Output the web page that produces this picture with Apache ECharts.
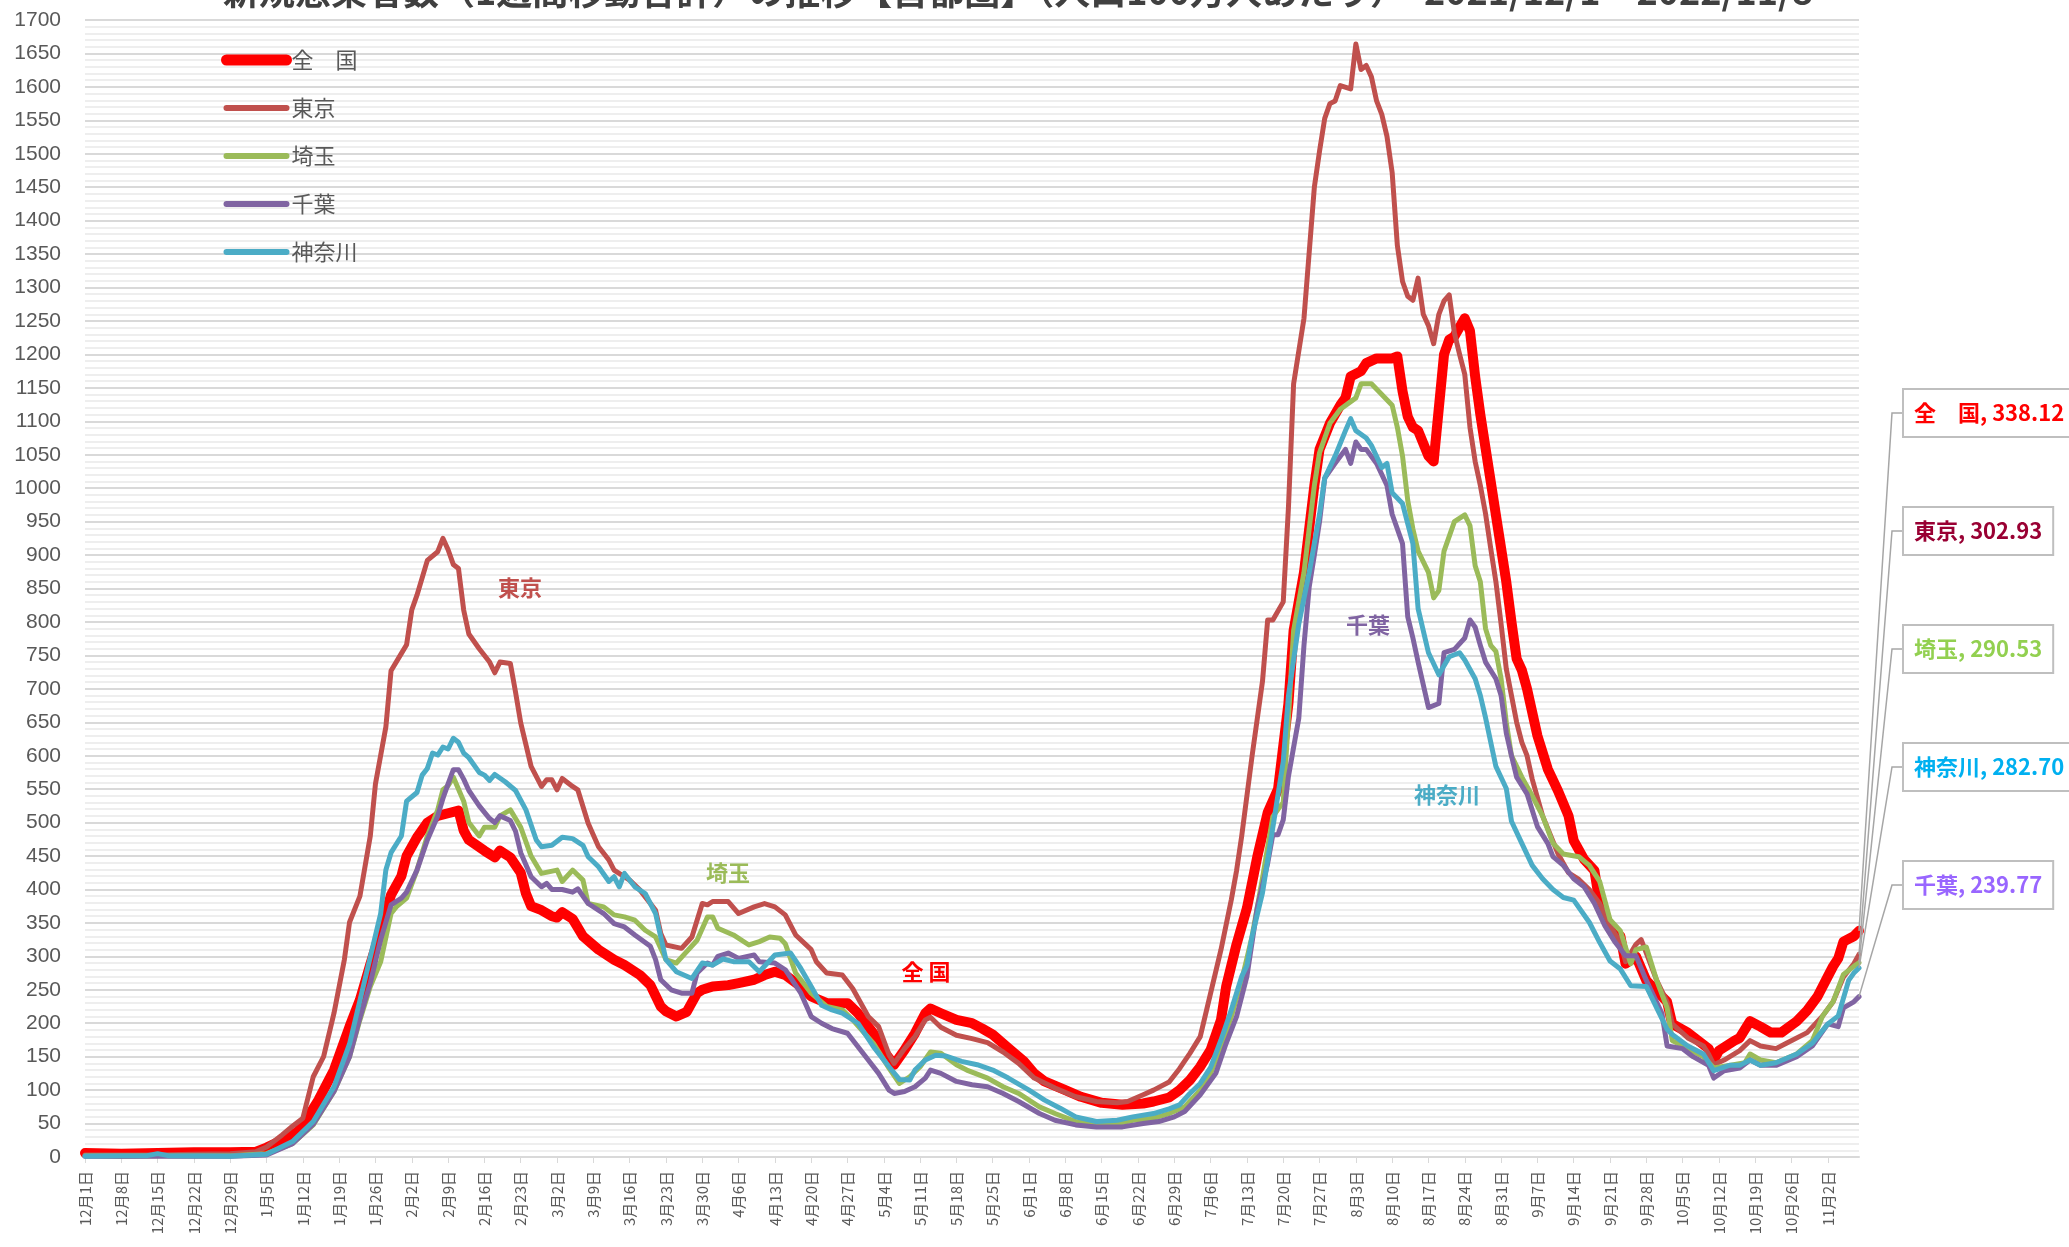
<!DOCTYPE html>
<html>
<head>
<meta charset="utf-8">
<title>新規感染者数の推移</title>
<script src="https://cdn.jsdelivr.net/npm/echarts@6/dist/echarts.min.js"></script>
<style>
html, body { margin: 0; padding: 0; background: #fff; }
#chart { width: 2069px; height: 1247px; }
</style>
</head>
<body>
<div id="chart"></div>
<script>
//------------------- データ --------------
// 2021/12/1 から 2022/11/8 までの日付（x軸カテゴリ）
var categories = [];
for (var i = 0; i < 343; i++) {
  var dt = new Date(2021, 11, 1 + i);
  categories.push((dt.getMonth() + 1) + '月' + dt.getDate() + '日');
}

var seriesNames = ['全　国', '東京', '埼玉', '千葉', '神奈川'];

// [日のインデックス, 人口100万人あたり1週間合計]
var zenkoku = [[0,6],[7,5],[14,6],[21,7],[28,7],[33,8],[35,14],[38,25],[41,38],[43,60],[45,85],[48,130],[51,195],[53,235],[55,288],[57,338],[59,392],[61,420],[62,450],[64,478],[66,500],[68,510],[70,514],[72,518],[73,488],[74,474],[77,458],[79,448],[80,458],[82,448],[84,425],[85,394],[86,375],[88,369],[90,360],[91,358],[92,366],[94,356],[96,330],[99,310],[102,295],[104,287],[107,272],[109,257],[111,225],[112,218],[114,210],[116,217],[118,245],[119,250],[121,255],[124,257],[126,260],[129,265],[131,272],[133,277],[135,272],[138,255],[140,240],[143,230],[147,230],[149,215],[152,185],[154,158],[156,138],[158,160],[160,185],[162,215],[163,222],[165,215],[168,205],[171,200],[173,192],[175,183],[178,163],[181,143],[183,125],[185,113],[189,100],[192,90],[196,81],[200,78],[204,80],[206,83],[209,89],[211,100],[213,115],[215,135],[217,160],[219,205],[220,255],[222,318],[224,372],[226,449],[228,515],[230,550],[232,678],[233,787],[235,874],[237,1004],[238,1058],[240,1097],[242,1124],[243,1135],[244,1167],[246,1175],[247,1187],[249,1194],[252,1194],[253,1197],[254,1145],[255,1107],[256,1091],[257,1086],[259,1048],[260,1040],[261,1120],[262,1200],[263,1222],[264,1227],[266,1254],[267,1235],[268,1167],[269,1110],[270,1060],[271,1010],[272,960],[273,910],[274,860],[275,800],[276,745],[277,728],[278,700],[280,630],[282,580],[284,547],[286,510],[287,473],[289,445],[291,428],[292,379],[294,342],[296,330],[297,289],[299,300],[301,264],[303,248],[305,232],[306,199],[309,186],[311,174],[313,162],[314,145],[315,159],[318,174],[319,178],[321,203],[323,195],[325,186],[327,186],[330,203],[332,219],[334,240],[336,270],[337,285],[338,297],[339,322],[341,330],[342,338.12]];

var tokyo = [[0,3],[14,3],[21,4],[28,5],[33,8],[35,15],[38,33],[40,46],[42,58],[44,120],[46,150],[48,215],[50,295],[51,351],[53,390],[55,480],[56,558],[58,643],[59,727],[61,753],[62,766],[63,818],[64,840],[66,892],[68,905],[69,925],[70,908],[71,886],[72,880],[73,818],[74,782],[76,760],[78,740],[79,724],[80,740],[82,738],[83,695],[84,649],[86,584],[88,554],[89,564],[90,564],[91,549],[92,566],[94,554],[95,549],[97,499],[99,464],[101,444],[102,429],[105,414],[107,399],[110,369],[111,334],[112,317],[115,312],[117,329],[119,379],[120,377],[121,382],[124,382],[126,364],[129,374],[131,379],[133,374],[135,362],[137,332],[140,310],[141,292],[143,275],[146,272],[148,252],[151,210],[153,195],[155,153],[156,140],[158,162],[160,180],[162,205],[163,209],[165,194],[168,182],[171,177],[174,171],[177,157],[180,140],[183,118],[187,103],[191,90],[195,83],[199,81],[201,83],[204,93],[206,100],[209,112],[211,132],[213,155],[215,180],[217,245],[219,310],[221,385],[222,428],[223,480],[225,600],[227,711],[228,803],[229,803],[231,830],[232,970],[233,1156],[235,1254],[236,1352],[237,1450],[238,1504],[239,1553],[240,1575],[241,1579],[242,1602],[244,1597],[245,1664],[246,1626],[247,1632],[248,1615],[249,1579],[250,1559],[251,1526],[252,1472],[253,1363],[254,1309],[255,1287],[256,1281],[257,1314],[258,1260],[259,1243],[260,1216],[261,1260],[262,1280],[263,1289],[264,1232],[265,1200],[266,1170],[267,1091],[268,1040],[269,1004],[270,962],[271,910],[272,860],[273,797],[274,730],[275,690],[276,650],[277,620],[278,600],[279,565],[281,510],[284,453],[286,425],[288,415],[290,400],[292,379],[294,346],[296,321],[297,292],[299,318],[300,325],[301,305],[303,264],[305,232],[306,199],[309,178],[312,166],[313,154],[314,138],[316,145],[319,159],[321,174],[323,166],[326,162],[328,170],[332,186],[335,211],[337,232],[339,269],[341,289],[342,302.93]];

var saitama = [[0,2],[14,2],[28,2],[35,5],[40,20],[44,48],[48,98],[51,150],[53,205],[55,255],[57,292],[59,364],[60,374],[62,387],[64,429],[66,480],[68,519],[69,549],[70,555],[71,568],[73,532],[74,500],[76,480],[77,493],[79,493],[80,510],[82,519],[83,506],[84,493],[86,450],[88,424],[91,429],[92,412],[94,429],[96,414],[97,379],[100,374],[102,362],[104,359],[106,354],[108,339],[110,329],[112,295],[114,290],[116,307],[118,324],[120,359],[121,359],[122,342],[125,332],[128,317],[130,322],[132,329],[134,327],[135,319],[137,275],[140,245],[143,225],[146,220],[148,205],[152,170],[155,133],[157,110],[159,120],[161,135],[163,157],[165,155],[168,138],[170,130],[174,118],[177,105],[180,95],[184,75],[187,65],[191,53],[195,50],[199,50],[202,55],[206,58],[209,65],[212,75],[215,100],[217,125],[219,165],[221,210],[223,265],[224,297],[225,330],[227,417],[229,509],[230,520],[231,530],[232,656],[233,787],[235,874],[237,1004],[238,1053],[240,1097],[242,1118],[245,1135],[246,1156],[248,1156],[250,1140],[252,1124],[253,1091],[254,1048],[255,982],[256,939],[257,906],[259,874],[260,836],[261,847],[262,906],[263,928],[264,950],[266,960],[267,944],[268,884],[269,860],[270,790],[271,765],[272,756],[273,715],[274,650],[275,600],[277,568],[279,540],[281,510],[283,469],[285,453],[288,449],[290,436],[292,412],[294,355],[296,338],[298,289],[299,310],[301,314],[303,264],[305,223],[306,174],[309,162],[312,150],[314,133],[317,137],[320,141],[321,154],[323,145],[326,141],[330,154],[333,174],[335,211],[337,232],[339,273],[341,285],[342,290.53]];

var chiba = [[0,1],[14,1],[28,1],[35,3],[40,20],[44,49],[48,98],[51,150],[53,208],[55,260],[57,325],[59,377],[61,387],[62,396],[64,429],[66,474],[68,510],[69,536],[70,558],[71,579],[72,579],[73,565],[74,548],[76,525],[78,506],[79,500],[80,510],[82,503],[83,487],[84,455],[86,419],[88,404],[89,409],[90,400],[92,400],[94,396],[95,401],[97,379],[100,364],[102,349],[104,344],[106,332],[109,315],[110,295],[111,265],[113,250],[115,245],[117,245],[118,275],[120,290],[121,287],[122,300],[124,305],[126,297],[129,302],[130,292],[133,290],[135,280],[138,245],[140,210],[142,200],[144,192],[147,185],[151,145],[153,125],[155,100],[156,95],[158,98],[160,105],[162,118],[163,130],[165,125],[168,113],[171,108],[174,105],[177,95],[180,83],[184,65],[187,55],[191,48],[195,45],[200,45],[204,50],[207,53],[210,60],[212,68],[215,93],[218,125],[220,170],[222,210],[224,270],[226,373],[228,439],[229,482],[230,482],[231,504],[232,569],[234,656],[235,765],[236,852],[237,900],[238,950],[239,1015],[241,1037],[243,1058],[244,1037],[245,1069],[246,1058],[247,1058],[249,1037],[251,1004],[252,961],[254,917],[255,808],[256,776],[257,740],[259,672],[261,678],[262,754],[264,759],[266,776],[267,803],[268,792],[269,765],[270,740],[272,715],[273,690],[274,634],[275,600],[276,568],[278,543],[280,494],[282,469],[283,449],[285,436],[287,416],[289,404],[291,379],[293,346],[295,321],[297,301],[299,301],[301,264],[304,215],[305,166],[308,162],[310,150],[313,137],[314,118],[316,129],[319,133],[321,145],[323,137],[326,137],[330,150],[333,166],[336,199],[338,195],[339,223],[341,232],[342,239.77]];

var kanagawa = [[0,1],[12,2],[14,5],[16,2],[28,1],[35,4],[40,23],[44,53],[48,105],[51,169],[53,234],[55,299],[57,364],[58,429],[59,455],[61,480],[62,532],[64,545],[65,571],[66,581],[67,604],[68,601],[69,613],[70,610],[71,626],[72,620],[73,604],[74,597],[76,575],[77,571],[78,563],[79,572],[81,561],[83,548],[85,519],[87,474],[88,464],[90,466],[92,478],[94,476],[96,466],[97,449],[99,434],[101,412],[102,419],[103,404],[104,424],[106,404],[108,394],[110,364],[111,329],[112,295],[114,277],[117,267],[119,290],[121,287],[123,296],[125,292],[128,292],[130,277],[133,302],[136,305],[138,282],[140,255],[142,227],[144,220],[146,215],[149,200],[152,165],[155,135],[157,116],[159,115],[160,130],[162,145],[164,152],[166,151],[169,143],[172,138],[175,130],[178,118],[182,100],[185,85],[188,73],[191,60],[195,53],[199,55],[202,60],[206,65],[209,72],[211,78],[213,95],[215,110],[217,134],[219,175],[221,220],[223,270],[224,286],[225,330],[227,395],[229,493],[231,591],[232,689],[234,797],[236,874],[238,961],[239,1015],[241,1048],[243,1086],[244,1104],[245,1086],[247,1075],[248,1064],[250,1031],[251,1037],[252,993],[254,977],[256,917],[257,820],[259,754],[261,721],[263,748],[265,754],[266,743],[268,715],[269,690],[270,657],[272,584],[274,551],[275,502],[277,469],[279,436],[281,416],[283,400],[285,388],[287,384],[290,351],[292,321],[294,293],[296,281],[298,256],[301,255],[303,223],[305,191],[306,183],[309,166],[312,154],[314,129],[317,137],[319,137],[321,145],[323,137],[326,141],[330,154],[333,170],[336,199],[338,211],[340,264],[341,275],[342,282.70]];

var seriesData = [zenkoku, tokyo, saitama, chiba, kanagawa];
var lineColors = ['#ff0000', '#c0504d', '#9bbb59', '#8064a2', '#4bacc6'];
var lineWidths = [10, 5, 5, 5, 5];
var legendWidths = [11, 6, 6, 6, 6];

// 右側の吹き出しラベル（上から順）
var calloutOrder = [0, 1, 2, 4, 3];
var calloutColors = ['#ff0000', '#990033', '#92d050', '#00b0f0', '#9966ff'];
var calloutY = [413, 531, 649, 767, 885];

// グラフ内の地域名
var areaLabels = [
  { text: '東京', x: 520, y: 588, color: '#c0504d' },
  { text: '埼玉', x: 728, y: 873, color: '#9bbb59' },
  { text: '全 国', x: 926, y: 972, color: '#ff0000' },
  { text: '千葉', x: 1368, y: 625, color: '#8064a2' },
  { text: '神奈川', x: 1447, y: 795, color: '#4bacc6' }
];

//------------------- 設定 --------------
var cjk = '"Noto Sans CJK JP", "Noto Sans", sans-serif';
var series = [];
var legendData = [];
for (var s = 0; s < seriesNames.length; s++) {
  series.push({
    name: seriesNames[s],
    type: 'line',
    data: seriesData[s],
    symbol: 'none',
    smooth: false,
    animation: false,
    lineStyle: { color: lineColors[s], width: lineWidths[s], cap: 'round', join: 'round' },
    itemStyle: { color: lineColors[s] }
  });
  legendData.push({
    name: seriesNames[s],
    itemStyle: { color: 'rgba(0,0,0,0)', borderWidth: 0, opacity: 0 },
    lineStyle: { color: lineColors[s], width: legendWidths[s], cap: 'round' }
  });
}

var option = {
  backgroundColor: '#fff',
  animation: false,
  grid: { left: 85, right: 210, top: 20, bottom: 90 },
  legend: {
    orient: 'vertical',
    left: 216,
    top: 44,
    itemWidth: 60,
    itemHeight: 22,
    itemGap: 26,
    textStyle: { color: '#595959', fontSize: 22, fontFamily: cjk },
    data: legendData
  },
  xAxis: {
    type: 'category',
    boundaryGap: false,
    data: categories,
    axisLine: { lineStyle: { color: '#d9d9d9', width: 2 } },
    axisTick: { show: true, interval: 6, length: 6, lineStyle: { color: '#d9d9d9' } },
    axisLabel: {
      interval: 6,
      rotate: 90,
      margin: 14,
      color: '#595959',
      fontSize: 15,
      fontFamily: cjk
    },
    splitLine: { show: false }
  },
  yAxis: {
    type: 'value',
    min: 0,
    max: 1700,
    interval: 50,
    axisLine: { show: false },
    axisTick: { show: false },
    axisLabel: {
      color: '#595959',
      fontSize: 21,
      margin: 24,
      fontFamily: '"Liberation Sans", sans-serif',
      formatter: function (v) { return String(v); }
    },
    splitLine: { lineStyle: { color: '#d9d9d9', width: 2 } },
    minorTick: { show: false, splitNumber: 5 },
    minorSplitLine: { show: true, lineStyle: { color: '#eeeeee', width: 2 } }
  },
  series: series
};

var chart = echarts.init(document.getElementById('chart'), null, { renderer: 'canvas' });
chart.setOption(option);

//------------------- 注記 --------------
var graphics = [];
graphics.push({
  type: 'text',
  x: 223,
  y: 9,
  style: {
    text: '新規感染者数（1週間移動合計）の推移【首都圏】（人口100万人あたり）　2021/12/1～2022/11/8',
    fill: '#404040',
    font: 'bold 36px ' + cjk,
    verticalAlign: 'bottom',
    align: 'left'
  }
});

for (var a = 0; a < areaLabels.length; a++) {
  graphics.push({
    type: 'text',
    x: areaLabels[a].x,
    y: areaLabels[a].y,
    style: {
      text: areaLabels[a].text,
      fill: areaLabels[a].color,
      font: 'bold 22px ' + cjk,
      align: 'center',
      verticalAlign: 'middle'
    }
  });
}

for (var c = 0; c < calloutOrder.length; c++) {
  var idx = calloutOrder[c];
  var d = seriesData[idx];
  var last = d[d.length - 1];
  var pt = chart.convertToPixel({ xAxisIndex: 0, yAxisIndex: 0 }, [last[0], last[1]]);
  var by = calloutY[c];
  graphics.push({
    type: 'polyline',
    shape: { points: [[pt[0], pt[1]], [1892, by], [1904, by]] },
    style: { stroke: '#a6a6a6', lineWidth: 1.5, fill: null },
    z: 10
  });
  graphics.push({
    type: 'text',
    x: 1904,
    y: by,
    z: 11,
    style: {
      text: seriesNames[idx] + ', ' + last[1].toFixed(2),
      fill: calloutColors[c],
      font: 'bold 22px ' + cjk,
      align: 'left',
      verticalAlign: 'middle',
      backgroundColor: '#fff',
      borderColor: '#bfbfbf',
      borderWidth: 2,
      padding: [12, 10, 12, 10]
    }
  });
}

chart.setOption({ graphic: graphics });
</script>
</body>
</html>
